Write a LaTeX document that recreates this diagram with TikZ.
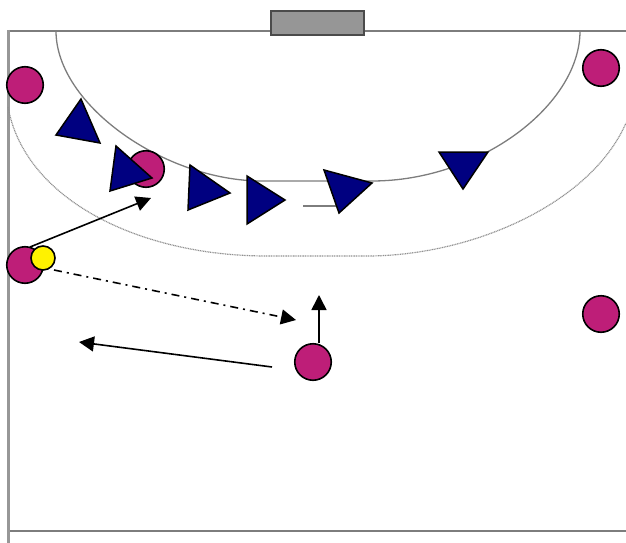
\documentclass[tikz,border=0pt]{standalone}
\usetikzlibrary{arrows.meta}
\definecolor{magentap}{RGB}{190,30,120}
\definecolor{navyp}{RGB}{0,0,128}
\definecolor{courtline}{RGB}{125,125,125}
\definecolor{goalfill}{RGB}{150,150,150}
\tikzset{
  player/.style={circle,draw=black,line width=1.6pt,fill=magentap,minimum size=36.5pt,inner sep=0pt},
  ballp/.style={circle,draw=black,line width=1.6pt,fill=yellow,minimum size=24pt,inner sep=0pt},
  defender/.style={draw=black,line width=1.5pt,fill=navyp,line join=miter},
  courtl/.style={draw=courtline,line width=1.4pt},
  sideline/.style={draw=courtline!80,line width=3pt},
  arcl/.style={draw=courtline,line width=1.3pt},
  dotl/.style={draw=courtline!85,line width=1.2pt,dash pattern=on 1pt off 0.7pt},
  movearrow/.style={draw=black,line width=1.6pt,-{Triangle[length=15pt,width=15pt]}},
  passarrow/.style={movearrow,dash pattern=on 8pt off 5pt on 2pt off 5pt}
}
\begin{document}
\begin{tikzpicture}[x=1pt,y=-1pt]
\useasboundingbox (0,0) rectangle (626,543);
% court
\draw[courtl] (8,31) -- (626,31);
\draw[courtl] (8,531) -- (626,531);
\draw[sideline] (8.5,30) -- (8.5,543);
% goal area line
\draw[arcl] (56,31) .. controls (56,105) and (165,181) .. (262,181) -- (372,181)
  .. controls (480,181) and (580,105) .. (580,31);
% free-throw line
\draw[dotl] (8,107) .. controls (25,200) and (140,256) .. (267,256) -- (367,256)
  .. controls (470,256) and (590,205) .. (626,123);
% goal
\draw[draw=courtline!60!black,line width=1.5pt,fill=goalfill] (271,11) rectangle (364,35);
% short line
\coordinate (sa) at (303,206);
\coordinate (sb) at (336,206);
\draw[courtl] (sa) -- (sb);
% players
\node[player] (p1) at (25,85) {};
\node[player] (p2) at (601,68) {};
\node[player] (p3) at (146,169) {};
\node[player] (p4) at (25,265) {};
\node[player] (p5) at (601,314) {};
\node[player] (p6) at (313,362) {};
\node[ballp] (ball) at (43,258) {};
% defenders
\draw[defender] (81,99) -- (56,135) -- (100,143) -- cycle;
\draw[defender] (116,146) -- (110,191) -- (152,178) -- cycle;
\draw[defender] (190,165) -- (188,210) -- (230,193) -- cycle;
\draw[defender] (247,176) -- (247,224) -- (285,200) -- cycle;
\draw[defender] (324,170) -- (339,213) -- (372,183) -- cycle;
\draw[defender] (439,152) -- (488,152) -- (463,189) -- cycle;
% arrows
\coordinate (a1s) at (30,247);
\coordinate (a1e) at (151,198);
\coordinate (a2s) at (54,270);
\coordinate (a2e) at (296,320);
\coordinate (a3s) at (319,343);
\coordinate (a3e) at (319,295);
\coordinate (a4s) at (272,367);
\coordinate (a4e) at (79,342);
\draw[movearrow] (a1s) -- (a1e);
\draw[passarrow] (a2s) -- (a2e);
\draw[movearrow] (a3s) -- (a3e);
\draw[movearrow] (a4s) -- (a4e);
\end{tikzpicture}
\end{document}
